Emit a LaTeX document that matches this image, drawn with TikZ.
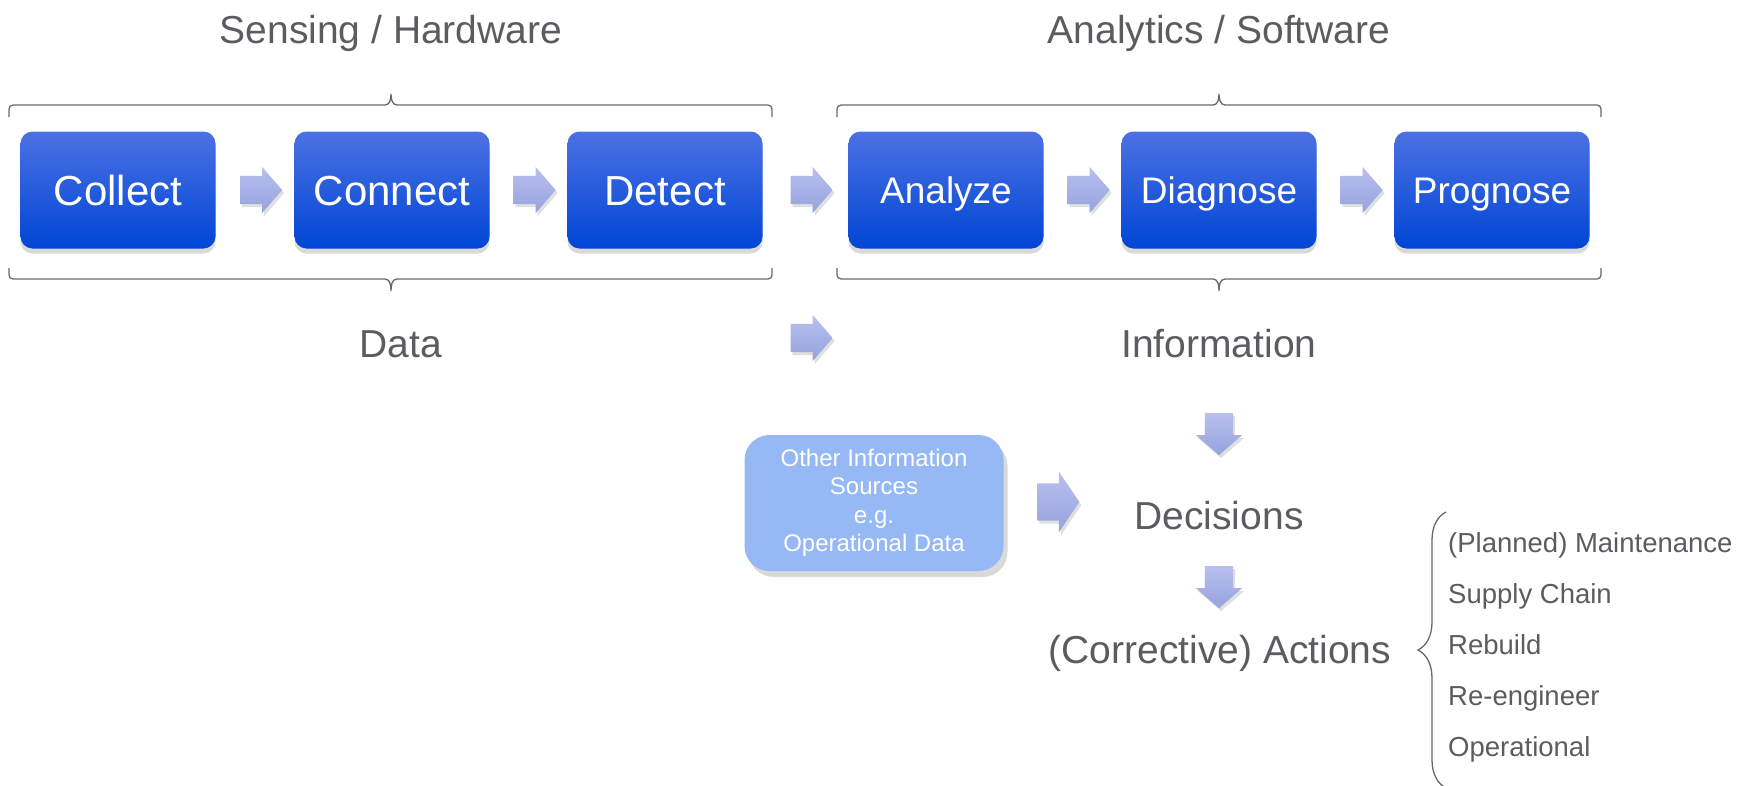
\documentclass[tikz,border=0pt]{standalone}
\usepackage{fontspec}
\setmainfont{Liberation Sans}
\usepackage{xcolor}
\usetikzlibrary{shapes.arrows, shadows, decorations.pathreplacing, calc}
\definecolor{boxtop}{RGB}{76,113,226}
\definecolor{boxbottom}{RGB}{0,70,214}
\definecolor{arrowtop}{RGB}{184,192,238}
\definecolor{arrowbottom}{RGB}{150,162,222}
\definecolor{sourcecolor}{RGB}{150,184,245}
\definecolor{labelgray}{RGB}{92,92,96}
\definecolor{bracegray}{RGB}{105,105,108}
\tikzstyle{stage} = [rectangle, rounded corners=12pt, minimum width=195pt, minimum height=117pt, top color=boxtop, bottom color=boxbottom, text=white, text height=30pt, text depth=0pt, font=\fontsize{42}{50}\selectfont, drop shadow={opacity=0.3, shadow xshift=0pt, shadow yshift=-5pt}]
\tikzstyle{stagesmall} = [stage, text height=26.5pt, font=\fontsize{37}{44}\selectfont]
\tikzstyle{flow} = [single arrow, draw=none, top color=arrowtop, bottom color=arrowbottom, minimum height=42pt, inner xsep=0pt, inner ysep=14pt, single arrow head extend=9pt, single arrow tip angle=98, drop shadow={opacity=0.25, shadow xshift=2pt, shadow yshift=-3pt}]
\tikzstyle{headtext} = [text=labelgray, font=\fontsize{39}{47}\selectfont, anchor=base, inner sep=0pt]
\tikzstyle{itemtext} = [text=labelgray, font=\fontsize{27.5}{33}\selectfont, anchor=base west, inner sep=0pt]
\tikzstyle{bracket} = [draw=bracegray, line width=1.3pt]

\begin{document}
\begin{tikzpicture}[x=1pt, y=-1pt]
\useasboundingbox (0,0) rectangle (1755,785);

% Group titles
\node[headtext] (hw) at (391,43) {Sensing / Hardware};
\node[headtext] (sw) at (1219,43) {Analytics / Software};

% Stage boxes
\node[stage] (collect) at (118,190) {Collect};
\node[stage] (connect) at (392,190) {Connect};
\node[stage] (detect) at (665,190) {Detect};
\node[stagesmall] (analyze) at (946,190) {Analyze};
\node[stagesmall] (diagnose) at (1219,190) {Diagnose};
\node[stagesmall] (prognose) at (1492,190) {Prognose};

% Arrows between stages
\node[flow] (a1) at ($(collect)!0.5!(connect)$) {};
\node[flow] (a2) at ($(connect)!0.5!(detect)$) {};
\node[flow] (a3) at ($(detect)!0.5!(analyze)$) {};
\node[flow] (a4) at ($(analyze)!0.5!(diagnose)$) {};
\node[flow] (a5) at ($(diagnose)!0.5!(prognose)$) {};

% Braces above
\draw[bracket] (9,117) -- (9,109) to[out=90,in=180] (13,105) -- (385,105) to[out=0,in=-90] (391,94) to[out=-90,in=180] (397,105) -- (768,105) to[out=0,in=90] (772,109) -- (772,117);
\draw[bracket] (837,117) -- (837,109) to[out=90,in=180] (841,105) -- (1213,105) to[out=0,in=-90] (1219,94) to[out=-90,in=180] (1225,105) -- (1597,105) to[out=0,in=90] (1601,109) -- (1601,117);

% Braces below
\draw[bracket] (9,268) -- (9,275) to[out=-90,in=180] (13,279) -- (385,279) to[out=0,in=90] (391,291) to[out=90,in=180] (397,279) -- (768,279) to[out=0,in=-90] (772,275) -- (772,268);
\draw[bracket] (837,268) -- (837,275) to[out=-90,in=180] (841,279) -- (1213,279) to[out=0,in=90] (1219,291) to[out=90,in=180] (1225,279) -- (1597,279) to[out=0,in=-90] (1601,275) -- (1601,268);

% Data and information
\node[headtext] (data) at (401,357) {Data};
\node[headtext] (info) at (1219,357) {Information};
\node[flow] (a6) at (a3 |- 0,338) {};
\node[flow, rotate=-90] (a7) at (1219,428) {};

% Decisions
\node[rectangle, rounded corners=25pt, minimum width=259pt, minimum height=136pt, fill=sourcecolor, text=white, align=center, font=\fontsize{24}{28.5}\selectfont, drop shadow={opacity=0.3, shadow xshift=4pt, shadow yshift=-6pt}] (other) at (874,503) {Other Information\\Sources\\e.g.\\Operational Data};
\node[flow, inner ysep=18.5pt, single arrow head extend=11.5pt, single arrow tip angle=112] (a8) at (1052,502) {};
\node[headtext] (decide) at (1219,529) {Decisions};
\node[flow, rotate=-90] (a9) at (1219,581) {};
\node[headtext] (act) at (1220,663) {(Corrective) Actions};

% Action list
\draw[bracket, decorate, decoration={brace, amplitude=28pt}] (1446,788) -- (1446,512);
\node[itemtext] (m1) at (1448,552) {(Planned) Maintenance};
\node[itemtext] (m2) at (1448,603) {Supply Chain};
\node[itemtext] (m3) at (1448,654) {Rebuild};
\node[itemtext] (m4) at (1448,705) {Re-engineer};
\node[itemtext] (m5) at (1448,756) {Operational};

\end{tikzpicture}
\end{document}
